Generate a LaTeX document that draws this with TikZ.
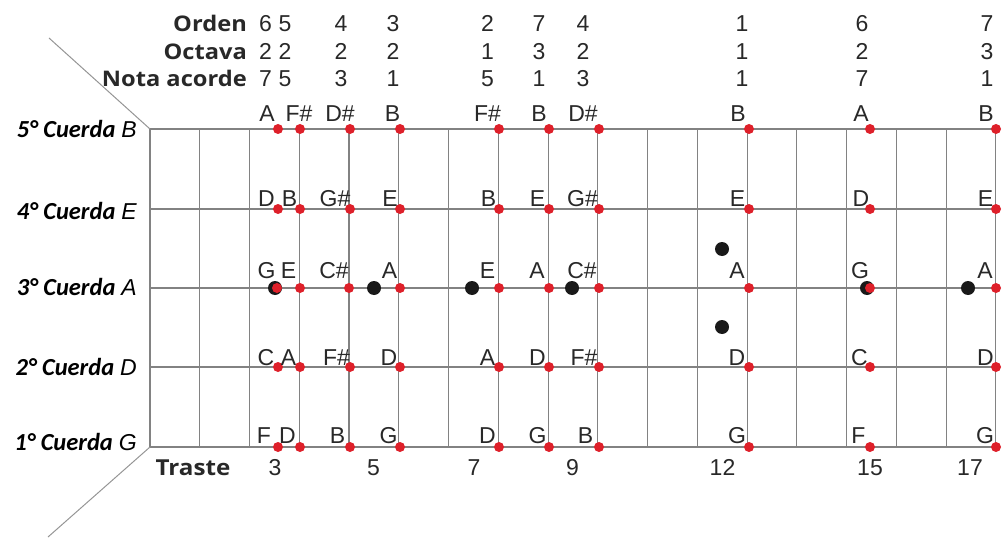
\documentclass[tikz,border=0pt]{standalone}
\usepackage{fontspec}
\setmainfont{Liberation Sans}
\newfontfamily\hdrfont{Open Sans}[FakeStretch=1.1]
\newfontfamily\cuerdafont{Carlito}
\definecolor{gridgray}{RGB}{130,130,130}
\definecolor{notered}{RGB}{222,32,42}
\definecolor{txt}{RGB}{40,40,40}
\begin{document}
\begin{tikzpicture}[x=1pt,y=-1pt,
  gridline/.style={draw=gridgray, line width=1.1pt},
  diag/.style={draw=gridgray!85, line width=1pt},
  rdot/.style={circle, fill=notered, inner sep=0pt, minimum size=10pt},
  bdot/.style={circle, fill=black!90, inner sep=0pt, minimum size=14pt},
  notelbl/.style={anchor=base, inner sep=0pt, font=\fontsize{23}{23}\selectfont, text=txt},
  hdr/.style={anchor=base east, inner sep=0pt, font=\hdrfont\bfseries\fontsize{21.5}{21.5}\selectfont, text=txt},
  cuerda/.style={anchor=base east, inner sep=0pt, text=black},
]
\useasboundingbox (0,0) rectangle (1003,540);

% strings
\foreach \y in {129,209,288,367,447}{
  \draw[gridline] (150,\y) -- (998,\y);
}
% frets
\foreach \i in {0,...,17}{
  \draw[gridline] ({150+49.76*\i},129) -- ({150+49.76*\i},447);
}
% diagonals
\draw[diag] (150,129) -- (49,38);
\draw[diag] (150,447) -- (48,537);

% fret markers
\foreach \n/\x/\y in {b1/275/288, b2/374/288, b3/472/288, b4/572/288, b5/722/249, b6/722/327, b7/867/288, b8/968/288}
  \node[bdot] (\n) at (\x,\y) {};

% string 5
\foreach \k/\dx/\lx/\t in {1/278/267/A, 2/300/299/F\#, 3/350/340/D\#, 4/400/392.5/B, 5/499/487.5/F\#, 6/549/539/B, 7/599/583/D\#, 8/749/738/B, 9/870/861/A, 10/996/986/B}{
  \node[rdot] (d5-\k) at (\dx,129) {};
  \node[notelbl] (n5-\k) at (\lx,122) {\t};
}
% string 4
\foreach \k/\dx/\lx/\t in {1/278/266.5/D, 2/300/289.5/B, 3/350/335/G\#, 4/400/390/E, 5/499/488.5/B, 6/549/537.5/E, 7/599/582.5/G\#, 8/749/737.5/E, 9/870/861/D, 10/996/985.5/E}{
  \node[rdot] (d4-\k) at (\dx,209) {};
  \node[notelbl] (n4-\k) at (\lx,207) {\t};
}
% string 3
\foreach \k/\dx/\lx/\t in {1/277/266.5/G, 2/300/288.5/E, 3/349/334/C\#, 4/400/389.5/A, 5/499/487.5/E, 6/549/537/A, 7/599/582/C\#, 8/749/737/A, 9/870/860/G, 10/996/985/A}{
  \node[rdot] (d3-\k) at (\dx,288) {};
  \node[notelbl] (n3-\k) at (\lx,278) {\t};
}
% string 2
\foreach \k/\dx/\lx/\t in {1/278/266/C, 2/300/288.5/A, 3/350/336.5/F\#, 4/400/389/D, 5/499/487.5/A, 6/549/537.5/D, 7/599/584/F\#, 8/749/737/D, 9/870/859.5/C, 10/996/985.5/D}{
  \node[rdot] (d2-\k) at (\dx,367) {};
  \node[notelbl] (n2-\k) at (\lx,365) {\t};
}
% string 1
\foreach \k/\dx/\lx/\t in {1/278/264/F, 2/300/287.5/D, 3/350/337.5/B, 4/400/388.5/G, 5/499/487.5/D, 6/549/537.5/G, 7/599/585.5/B, 8/749/737/G, 9/870/858.5/F, 10/996/985/G}{
  \node[rdot] (d1-\k) at (\dx,447) {};
  \node[notelbl] (n1-\k) at (\lx,443) {\t};
}

% header rows
\node[hdr] (hOrden) at (247,32) {Orden};
\node[hdr] (hOctava) at (247,60) {Octava};
\node[hdr] (hNota) at (247,87) {Nota acorde};
\foreach \k/\x/\o/\v/\a in {1/265.5/6/2/7, 2/285/5/2/5, 3/341/4/2/3, 4/393/3/2/1, 5/487.5/2/1/5, 6/539/7/3/1, 7/583/4/2/3, 8/742/1/1/1, 9/862/6/2/7, 10/987/7/3/1}{
  \node[notelbl] (or\k) at (\x,32) {\o};
  \node[notelbl] (oc\k) at (\x,60) {\v};
  \node[notelbl] (na\k) at (\x,87) {\a};
}

% fret numbers
\node[anchor=base, inner sep=0pt, font=\hdrfont\bfseries\fontsize{22}{22}\selectfont, text=txt] (traste) at (193,475) {Traste};
\foreach \k/\x/\f in {1/275/3, 2/373.5/5, 3/474/7, 4/572.5/9, 5/722.5/12, 6/870/15, 7/970/17}
  \node[notelbl] (f\k) at (\x,475) {\f};

% string names
\foreach \k/\y/\n/\s in {5/138/5/B, 4/219/4/E, 3/295/3/A, 2/375/2/D, 1/450/1/G}
  \node[cuerda] (c\k) at (137,\y) {{\cuerdafont\bfseries\itshape\fontsize{24.5}{24.5}\selectfont \n° Cuerda}\hspace{6pt}{\itshape\fontsize{23}{23}\selectfont \s}};
\end{tikzpicture}
\end{document}
